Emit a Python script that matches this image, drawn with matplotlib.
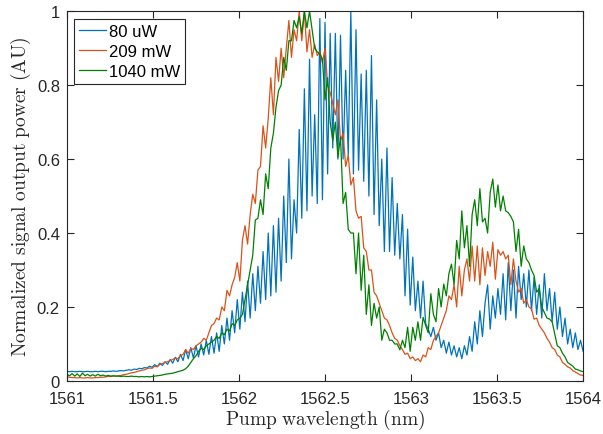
import numpy as np
import matplotlib
matplotlib.use("Agg")
import matplotlib.pyplot as plt

plt.rcParams['font.family'] = ['Liberation Sans', 'DejaVu Sans']
plt.rcParams['mathtext.fontset'] = 'cm'

# pump wavelength grid (nm), one sample every 0.015 nm
wavelength = np.round(1561 + 0.015 * np.arange(201), 3)

# 80 uW
p80uw = [
    0.026, 0.025, 0.026, 0.025, 0.025, 0.026, 0.025, 0.025, 0.026, 0.025,
    0.025, 0.026, 0.025, 0.026, 0.026, 0.025, 0.026, 0.026, 0.027, 0.026,
    0.027, 0.028, 0.027, 0.029, 0.030, 0.029, 0.032, 0.031, 0.034, 0.033,
    0.036, 0.035, 0.040, 0.037, 0.044, 0.039, 0.048, 0.042, 0.052, 0.045,
    0.058, 0.048, 0.064, 0.052, 0.072, 0.055, 0.085, 0.060, 0.090, 0.062,
    0.095, 0.065, 0.100, 0.070, 0.110, 0.072, 0.120, 0.075, 0.130, 0.080,
    0.150, 0.100, 0.170, 0.110, 0.190, 0.130, 0.220, 0.140, 0.240, 0.160,
    0.270, 0.170, 0.290, 0.190, 0.310, 0.210, 0.350, 0.220, 0.400, 0.230,
    0.420, 0.240, 0.440, 0.270, 0.500, 0.320, 0.600, 0.330, 0.490, 0.400,
    0.680, 0.440, 0.790, 0.460, 0.870, 0.500, 0.720, 0.480, 0.980, 0.490,
    0.970, 0.560, 0.940, 0.630, 0.940, 0.600, 0.935, 0.600, 0.840, 0.610,
    1.000, 0.560, 0.950, 0.570, 0.830, 0.540, 0.840, 0.500, 0.880, 0.450,
    0.760, 0.420, 0.600, 0.350, 0.630, 0.350, 0.550, 0.340, 0.480, 0.330,
    0.450, 0.230, 0.410, 0.205, 0.335, 0.190, 0.270, 0.170, 0.270, 0.155,
    0.140, 0.120, 0.145, 0.110, 0.130, 0.090, 0.110, 0.075, 0.105, 0.070,
    0.095, 0.065, 0.090, 0.060, 0.095, 0.070, 0.120, 0.080, 0.160, 0.100,
    0.190, 0.120, 0.210, 0.260, 0.140, 0.230, 0.170, 0.250, 0.180, 0.290,
    0.165, 0.320, 0.190, 0.300, 0.170, 0.310, 0.220, 0.290, 0.200, 0.300,
    0.190, 0.280, 0.180, 0.260, 0.170, 0.290, 0.190, 0.250, 0.160, 0.240,
    0.140, 0.200, 0.120, 0.170, 0.100, 0.140, 0.090, 0.130, 0.085, 0.110,
    0.080,
]

# 209 mW
p209mw = [
    0.011, 0.010, 0.009, 0.009, 0.008, 0.009, 0.008, 0.008, 0.009, 0.008,
    0.008, 0.009, 0.009, 0.010, 0.010, 0.011, 0.012, 0.012, 0.013, 0.013,
    0.014, 0.015, 0.017, 0.018, 0.020, 0.022, 0.023, 0.025, 0.027, 0.029,
    0.030, 0.033, 0.035, 0.034, 0.040, 0.038, 0.045, 0.047, 0.050, 0.052,
    0.055, 0.058, 0.062, 0.060, 0.068, 0.072, 0.085, 0.075, 0.088, 0.085,
    0.095, 0.100, 0.105, 0.115, 0.110, 0.130, 0.150, 0.155, 0.170, 0.165,
    0.200, 0.190, 0.245, 0.230, 0.260, 0.280, 0.320, 0.270, 0.380, 0.420,
    0.370, 0.450, 0.505, 0.480, 0.570, 0.580, 0.690, 0.630, 0.710, 0.820,
    0.720, 0.875, 0.810, 0.900, 0.820, 0.900, 0.975, 0.875, 0.950, 0.920,
    1.000, 0.920, 1.000, 0.890, 0.950, 0.875, 0.910, 0.880, 0.890, 0.860,
    0.900, 0.800, 0.780, 0.750, 0.720, 0.760, 0.650, 0.670, 0.580, 0.610,
    0.530, 0.550, 0.460, 0.440, 0.445, 0.360, 0.350, 0.300, 0.300, 0.240,
    0.230, 0.210, 0.190, 0.170, 0.165, 0.150, 0.130, 0.115, 0.110, 0.095,
    0.085, 0.072, 0.075, 0.060, 0.065, 0.055, 0.060, 0.052, 0.070, 0.065,
    0.090, 0.085, 0.110, 0.120, 0.130, 0.150, 0.170, 0.190, 0.230, 0.220,
    0.260, 0.200, 0.310, 0.230, 0.300, 0.330, 0.270, 0.365, 0.270, 0.365,
    0.260, 0.360, 0.285, 0.350, 0.310, 0.375, 0.275, 0.355, 0.340, 0.350,
    0.330, 0.340, 0.260, 0.330, 0.270, 0.240, 0.250, 0.210, 0.220, 0.200,
    0.195, 0.167, 0.170, 0.150, 0.140, 0.130, 0.115, 0.105, 0.090, 0.085,
    0.070, 0.065, 0.050, 0.045, 0.038, 0.035, 0.028, 0.024, 0.020, 0.016,
    0.015,
]

# 1040 mW
p1040mw = [
    0.018, 0.014, 0.020, 0.013, 0.019, 0.012, 0.021, 0.014, 0.018, 0.013,
    0.017, 0.013, 0.018, 0.014, 0.016, 0.013, 0.015, 0.013, 0.014, 0.013,
    0.013, 0.012, 0.013, 0.012, 0.012, 0.013, 0.012, 0.012, 0.011, 0.012,
    0.011, 0.012, 0.011, 0.012, 0.013, 0.014, 0.015, 0.016, 0.018, 0.019,
    0.020, 0.021, 0.023, 0.025, 0.027, 0.029, 0.033, 0.040, 0.050, 0.060,
    0.068, 0.080, 0.088, 0.085, 0.095, 0.100, 0.105, 0.110, 0.120, 0.115,
    0.130, 0.125, 0.140, 0.135, 0.155, 0.150, 0.165, 0.170, 0.180, 0.220,
    0.260, 0.300, 0.340, 0.435, 0.440, 0.490, 0.450, 0.560, 0.520, 0.630,
    0.670, 0.740, 0.785, 0.800, 0.875, 0.840, 0.920, 0.920, 0.975, 0.955,
    0.985, 0.940, 1.000, 0.955, 1.000, 0.950, 0.900, 0.890, 0.885, 0.870,
    0.760, 0.820, 0.700, 0.650, 0.700, 0.605, 0.660, 0.480, 0.510, 0.410,
    0.400, 0.400, 0.290, 0.400, 0.245, 0.340, 0.180, 0.260, 0.150, 0.210,
    0.170, 0.200, 0.110, 0.140, 0.130, 0.110, 0.110, 0.100, 0.100, 0.084,
    0.110, 0.090, 0.145, 0.080, 0.145, 0.110, 0.160, 0.110, 0.172, 0.150,
    0.130, 0.236, 0.180, 0.160, 0.250, 0.200, 0.262, 0.230, 0.290, 0.316,
    0.260, 0.380, 0.330, 0.460, 0.360, 0.420, 0.310, 0.450, 0.490, 0.420,
    0.520, 0.430, 0.440, 0.400, 0.510, 0.546, 0.470, 0.530, 0.460, 0.500,
    0.460, 0.455, 0.445, 0.430, 0.350, 0.410, 0.310, 0.365, 0.330, 0.320,
    0.300, 0.285, 0.240, 0.250, 0.200, 0.185, 0.170, 0.167, 0.160, 0.127,
    0.095, 0.090, 0.075, 0.065, 0.050, 0.045, 0.040, 0.032, 0.030, 0.027,
    0.025,
]

labels = ['80 uW', '209 mW', '1040 mW']
colors = ['#0072BD', '#D95319', '#008000']
xticks = [1561, 1561.5, 1562, 1562.5, 1563, 1563.5, 1564]
yticks = [0, 0.2, 0.4, 0.6, 0.8, 1]

fig = plt.figure(figsize=(6.03, 4.35), dpi=100)
ax = fig.add_axes([0.111, 0.122, 0.856, 0.850])

for series, lab, c in zip([p80uw, p209mw, p1040mw], labels, colors):
    ax.plot(wavelength, series, color=c, lw=0.9, label=lab)

ax.set_xlim(1561, 1564)
ax.set_ylim(0, 1)
ax.set_xticks(xticks)
ax.set_xticklabels(['1561', '1561.5', '1562', '1562.5', '1563', '1563.5', '1564'])
ax.set_yticks(yticks)
ax.set_yticklabels(['0', '0.2', '0.4', '0.6', '0.8', '1'])
ax.tick_params(direction='in', top=True, right=True, length=5, width=0.8,
               labelsize=12, colors='#262626')
ax.tick_params(axis='x', pad=7)
ax.tick_params(axis='y', pad=5)
for s in ax.spines.values():
    s.set_color('#262626')
    s.set_linewidth(0.8)

ax.set_xlabel(r'$\mathrm{Pump\ wavelength\ (nm)}$', fontsize=14, color='#262626', labelpad=1)
ax.set_ylabel(r'$\mathrm{Normalized\ signal\ output\ power\ (AU)}$', fontsize=14, color='#262626', labelpad=3)

leg = ax.legend(loc='upper left', fontsize=12, frameon=True, fancybox=False,
                handlelength=1.6, handletextpad=0.15, borderpad=0.3, labelspacing=0.3,
                borderaxespad=0.45)
leg.get_frame().set_edgecolor('#262626')
leg.get_frame().set_linewidth(0.8)
leg.get_frame().set_alpha(1)

fig.savefig('out.png', dpi=100)
